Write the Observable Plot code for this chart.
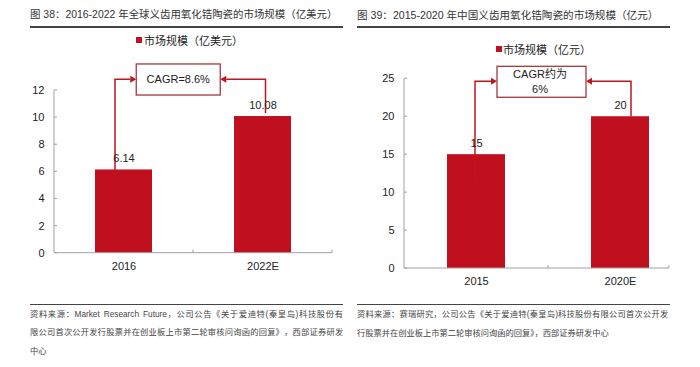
<!DOCTYPE html>
<html><head><meta charset="utf-8">
<script src="https://cdn.jsdelivr.net/npm/d3@7"></script>
<script src="https://cdn.jsdelivr.net/npm/@observablehq/plot@0.6"></script>
<style>
body{margin:0;background:#fff;width:700px;height:367px;overflow:hidden;position:relative;font-family:"Liberation Sans",Arial,"Noto Sans CJK SC",sans-serif;}
.chart{position:absolute;top:0;}
.title{position:absolute;white-space:nowrap;font-size:10.6px;line-height:14px;color:#333;font-family:"Liberation Sans",Arial,"Noto Sans CJK SC",sans-serif;}
.hr{position:absolute;height:1.5px;background:#444;}
.legend{position:absolute;white-space:nowrap;font-size:11px;line-height:14px;color:#222;font-family:"Noto Sans CJK SC",sans-serif;}
.sw{position:absolute;width:6px;height:6px;background:#c00f1e;}
.note{position:absolute;font-size:8.25px;line-height:18.5px;color:#444;font-family:"Liberation Sans",Arial,"Noto Sans CJK SC",sans-serif;white-space:nowrap;}
.jl{display:flex;}
.jl span{flex:none;}
.jl i{flex:1 1 0;}
.jl i.s{flex:6 1 0;}
</style>
</head><body>
<script>
// ---- data ----
const catsA = ["2016", "2022E"];
const valsA = [6.14, 10.08];
const labelsA = ["6.14", "10.08"];
const yTicksA = [0, 2, 4, 6, 8, 10, 12];
const cagrA = ["CAGR=8.6%"];

const catsB = ["2015", "2020E"];
const valsB = [15, 20];
const labelsB = ["15", "20"];
const yTicksB = [0, 5, 10, 15, 20, 25];
const cagrB = ["CAGR约为", "6%"];

const titleA = "图 38：2016-2022 年全球义齿用氧化锆陶瓷的市场规模（亿美元）";
const titleB = "图 39：2015-2020 年中国义齿用氧化锆陶瓷的市场规模（亿元）";
const legendA = "市场规模（亿美元）";
const legendB = "市场规模（亿元）";
const notesA = ["资料来源：Market Research Future，公司公告《关于爱迪特(秦皇岛)科技股份有",
                "限公司首次公开发行股票并在创业板上市第二轮审核问询函的回复》，西部证券研发",
                "中心"];
const notesB = ["资料来源：赛瑞研究，公司公告《关于爱迪特(秦皇岛)科技股份有限公司首次公开发",
                "行股票并在创业板上市第二轮审核问询函的回复》，西部证券研发中心"];

const RED = "#c00f1e", ARROW = "#c0161f", BOX = "#a23a3d", AXIS = "#a0a0a0";

function axesMark(cfg) {
  return (index, {x, y}) => {
    const g = d3.create("svg:g").attr("fill", "none").attr("stroke", AXIS).attr("stroke-width", 1);
    const [x0, x1] = x.range();
    const yb = y(0), yt = y(cfg.yTicks[cfg.yTicks.length - 1]);
    const xe = x1 - cfg.axisTrim;
    g.append("line").attr("x1", x0).attr("x2", x0).attr("y1", yb).attr("y2", yt);
    g.append("line").attr("x1", x0).attr("x2", xe).attr("y1", yb).attr("y2", yb);
    for (const t of cfg.yTicks)
      g.append("line").attr("x1", x0).attr("x2", x0 + 3).attr("y1", y(t)).attr("y2", y(t));
    const mid = x(cfg.cats[0]) + x.bandwidth() / 2 + x.step() / 2;
    for (const bx of [mid, xe])
      g.append("line").attr("x1", bx).attr("x2", bx).attr("y1", yb).attr("y2", yb - 3);
    return g.node();
  };
}

function annoMark(cfg) {
  return (index, {x, y}) => {
    const g = d3.create("svg:g");
    const c = cfg.cats.map(k => x(k) + x.bandwidth() / 2);
    const bx = (c[0] + c[1]) / 2 + cfg.boxShift, bw = cfg.boxWidth;
    const bt = y(cfg.boxTop), bb = y(cfg.boxBottom), ay = y(cfg.arrowY);
    const L = bx - bw / 2, R = bx + bw / 2, ah = 6;
    g.append("path").attr("fill", "none").attr("stroke", ARROW).attr("stroke-width", 1.5)
      .attr("d", `M${c[0] + cfg.dx[0]},${y(cfg.start[0])}V${ay}H${L - ah}`);
    g.append("path").attr("fill", "none").attr("stroke", ARROW).attr("stroke-width", 1.5)
      .attr("d", `M${c[1] + cfg.dx[1]},${y(cfg.start[1])}V${ay}H${R + ah}`);
    g.append("path").attr("fill", ARROW)
      .attr("d", `M${L},${ay}L${L - ah},${ay - 3.5}L${L - ah},${ay + 3.5}Z`);
    g.append("path").attr("fill", ARROW)
      .attr("d", `M${R},${ay}L${R + ah},${ay - 3.5}L${R + ah},${ay + 3.5}Z`);
    g.append("rect").attr("x", L).attr("y", bt).attr("width", bw).attr("height", bb - bt)
      .attr("fill", "white").attr("stroke", BOX).attr("stroke-width", 1.3);
    const n = cfg.text.length, lh = 14.5, cy = (bt + bb) / 2;
    cfg.text.forEach((t, i) => {
      g.append("text").attr("x", bx + cfg.textShift).attr("y", cy + (i - (n - 1) / 2) * lh)
        .attr("dy", "0.35em").attr("text-anchor", "middle").attr("fill", "#222")
        .attr("font-size", 11).text(t);
    });
    return g.node();
  };
}

function chart(cfg) {
  const data = cfg.cats.map((k, i) => ({cat: k, val: cfg.vals[i], label: cfg.labels[i]}));
  const svg = Plot.plot({
    width: 350, height: 300,
    marginLeft: cfg.ml, marginRight: cfg.mr, marginTop: cfg.mt, marginBottom: cfg.mb,
    style: {background: "transparent", fontSize: "11px", color: "#222",
            fontFamily: '"Liberation Sans", Arial, "Noto Sans CJK SC", sans-serif', overflow: "visible"},
    x: {domain: cfg.cats, paddingInner: cfg.pi, paddingOuter: cfg.pi / 2, tickSize: 0, tickPadding: 9, label: null},
    y: {domain: [0, cfg.yTicks[cfg.yTicks.length - 1]], ticks: cfg.yTicks, tickSize: 0, tickPadding: 10, label: null},
    marks: [
      Plot.barY(data, {x: "cat", y: "val", fill: RED}),
      axesMark(cfg),
      annoMark(cfg),
      Plot.text(data, {x: "cat", y: "val", text: "label", dy: -11, fill: "#222", fontSize: 11})
    ]
  });
  svg.classList.add("chart");
  svg.style.left = cfg.left + "px";
  svg.style.position = "absolute";
  document.body.appendChild(svg);
}

chart({left: 0, cats: catsA, vals: valsA, labels: labelsA, yTicks: yTicksA,
  ml: 54, mr: 18, mt: 90, mb: 47.3, pi: 0.59, axisTrim: 0,
  text: cagrA, boxShift: -14.75, boxWidth: 84, boxTop: 13.92, boxBottom: 11.63, arrowY: 12.79,
  textShift: 0, dx: [-8.5, 3], start: [5.73, 10.3]});

chart({left: 350, cats: catsB, vals: valsB, labels: labelsB, yTicks: yTicksB,
  ml: 54, mr: 8, mt: 78.3, mb: 32, pi: 0.597, axisTrim: 23,
  text: cagrB, boxShift: -6.5, boxWidth: 89, boxTop: 26.58, boxBottom: 22.5, arrowY: 24.6,
  textShift: -1.5, dx: [-1, 11], start: [11.36, 20]});

function el(cls, style, text) {
  const d = document.createElement("div");
  d.className = cls;
  Object.assign(d.style, style);
  if (text != null) d.textContent = text;
  document.body.appendChild(d);
  return d;
}
// a full-width justified line built from tokens with flexible gaps
function justLine(style, text) {
  const d = el("note jl", style);
  const toks = text.match(/[A-Za-z]+|\s+|./g);
  toks.forEach((t, i) => {
    if (/^\s+$/.test(t)) { const s = document.createElement("i"); s.className = "s"; d.appendChild(s); return; }
    if (i > 0 && !/^\s+$/.test(toks[i - 1])) d.appendChild(document.createElement("i"));
    const sp = document.createElement("span"); sp.textContent = t; d.appendChild(sp);
  });
  return d;
}
el("title", {left: "30px", top: "8px", fontSize: "10.45px"}, titleA);
el("title", {left: "357px", top: "8px"}, titleB);
el("hr", {left: "30px", top: "26px", width: "313px"});
el("hr", {left: "357px", top: "26px", width: "313px"});
el("sw", {left: "136px", top: "37px"});
el("legend", {left: "144px", top: "33px"}, legendA);
el("sw", {left: "496px", top: "46px"});
el("legend", {left: "503px", top: "42px"}, legendB);
el("hr", {left: "30px", top: "303.5px", width: "313px"});
el("hr", {left: "357px", top: "303.5px", width: "313px"});
notesA.forEach((t, i) => {
  const st = {left: "30px", top: (305.75 + i * 18.5) + "px"};
  if (i < notesA.length - 1) justLine({...st, width: "313px"}, t); else el("note", st, t);
});
notesB.forEach((t, i) => {
  const st = {left: "357px", top: (305.5 + i * 19) + "px"};
  if (i < notesB.length - 1) justLine({...st, width: "311px"}, t); else el("note", st, t);
});
</script>
</body></html>
